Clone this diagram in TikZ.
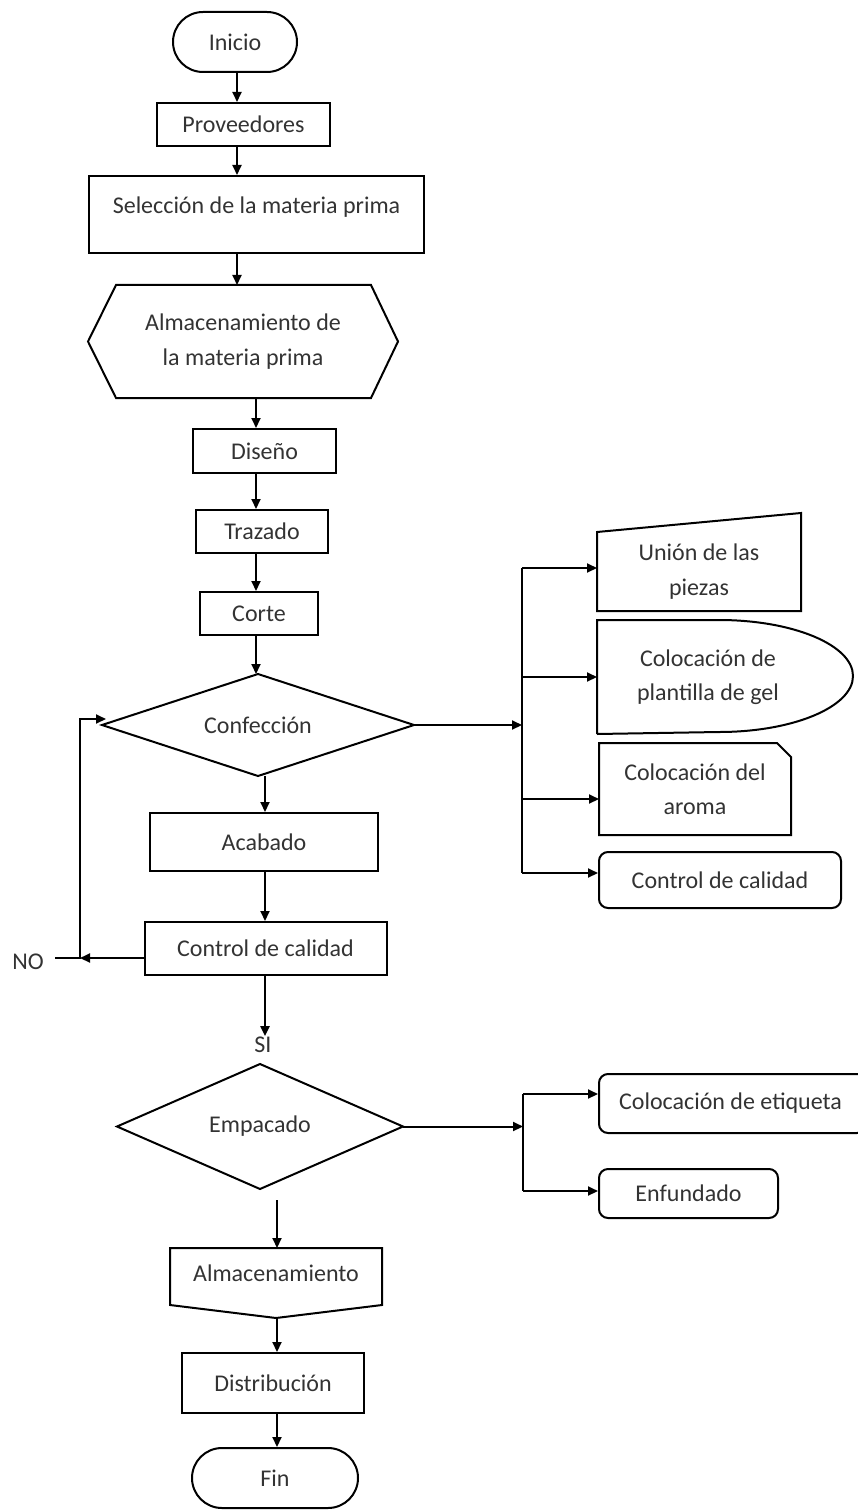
\documentclass[tikz,border=0pt]{standalone}
\usepackage{fontspec}
\setmainfont{Carlito}
\usetikzlibrary{arrows.meta,shapes.misc,calc}

\begin{document}
\begin{tikzpicture}[x=1pt,y=-1pt,line width=2pt,
  every node/.style={font=\fontsize{24}{34.5}\selectfont, text=black!80,
    inner sep=0pt, align=center},
  sz/.style 2 args={minimum width=#1pt, minimum height=#2pt},
  blockbox/.style={draw},
  termbox/.style={draw, rounded rectangle},
  softbox/.style={draw, rounded corners=9pt},
  arr/.style={-{Triangle[length=10pt,width=9pt]}}]

\useasboundingbox (0,0) rectangle (858,1511);

% main column
\node[termbox, sz={124}{60}] (inicio) at (235,42) {Inicio};
\node[blockbox, sz={173}{43}] (prov) at (243.5,124.5) {Proveedores};
\node[blockbox, sz={335}{77}, label={[yshift=7.5pt]center:Selección de la materia prima}] (sel) at (256.5,214.5) {};
\node[sz={308}{111}] (alm1) at (243,341.5) {Almacenamiento de\\la materia prima};
\node[blockbox, sz={143}{44}] (diseno) at (264.5,451) {Diseño};
\node[blockbox, sz={132}{43}] (traz) at (262,531.5) {Trazado};
\node[blockbox, sz={118}{43}] (corte) at (259,613.5) {Corte};
\node[sz={310}{100}] (conf) at (258,725) {Confección};
\node[blockbox, sz={228}{58}] (acab) at (264,842) {Acabado};
\node[blockbox, sz={242}{53}] (ctrl) at (265.5,948.5) {Control de calidad};
\node (si) at (263,1045) {SI};
\node (no) at (28,962) {NO};
\node[sz={284}{123}] (emp) at (260,1126.5) {Empacado};
\node[sz={210}{68}, label={[yshift=10pt]center:Almacenamiento}] (alm2) at (276,1283) {};
\node[blockbox, sz={182}{60}] (dist) at (273,1383) {Distribución};
\node[termbox, sz={166}{60}] (fin) at (275,1478) {Fin};

% right branch of Confección
\node[sz={202}{77}] (union) at (699,571.5) {Unión de las\\piezas};
\node[sz={220}{112}] (gel) at (708,677) {Colocación de\\plantilla de gel};
\node[sz={190}{90}] (aroma) at (695,789) {Colocación del\\aroma};
\node[softbox, sz={242}{56}] (ctrl2) at (720,880) {Control de calidad};

% right branch of Empacado
\node[softbox, sz={267}{59}, label={[xshift=-2pt]center:Colocación de etiqueta}] (etiq) at (732.5,1103.5) {};
\node[softbox, sz={179}{49}] (enf) at (688.5,1193.5) {Enfundado};

% outlines of the special shapes
\draw (alm1.west) -- ([xshift=28pt]alm1.north west) -- ([xshift=-27pt]alm1.north east)
  -- (alm1.east) -- ([xshift=-27pt]alm1.south east) -- ([xshift=28pt]alm1.south west) -- cycle;
\draw (conf.north) -- (conf.east) -- (conf.south) -- (conf.west) -- cycle;
\draw (emp.north) -- (emp.east) -- (emp.south) -- (emp.west) -- cycle;
\draw (alm2.north west) -- (alm2.north east) -- ([yshift=13pt]alm2.south east)
  -- (alm2.south) -- ([yshift=13pt]alm2.south west) -- cycle;
\draw (union.north west) -- ([yshift=19pt]union.north east) -- (union.south east)
  -- (union.south west) -- cycle;
\draw (gel.south west) -- (gel.north west) -- ([xshift=122pt]gel.north west)
  arc[start angle=90, end angle=-90, x radius=134pt, y radius=56pt] -- (gel.south west);
\draw (aroma.south west) -- (aroma.north west) -- ([xshift=-14pt]aroma.north east)
  -- ([yshift=-14pt]aroma.north east) -- (aroma.south east) -- cycle;

% columns of the vertical connectors
\coordinate (c1) at (237,0);
\coordinate (c2) at (256,0);
\coordinate (c3) at (265,0);
\coordinate (c4) at (277,0);

\draw[arr] (c1 |- inicio.south) -- (c1 |- prov.north);
\draw[arr] (c1 |- prov.south) -- (c1 |- sel.north);
\draw[arr] (c1 |- sel.south) -- (c1 |- alm1.north);
\draw[arr] (c2 |- alm1.south) -- (c2 |- diseno.north);
\draw[arr] (c2 |- diseno.south) -- (c2 |- traz.north);
\draw[arr] (c2 |- traz.south) -- (c2 |- corte.north);
\draw[arr] (c2 |- corte.south) -- (c2 |- conf.north);
\draw[arr] (c3 |- conf.south) -- (c3 |- acab.north);
\draw[arr] (c3 |- acab.south) -- (c3 |- ctrl.north);
\draw[arr] (c3 |- ctrl.south) -- (c3 |- si.north);

% rework loop
\coordinate (loop) at (80,958);
\coordinate (loopT) at (106,719);
\coordinate (noEnd) at (55,958);
\draw[arr] (ctrl.west |- loop) -- (loop);
\draw[arr] (noEnd) -- (loop) -- (loop |- loopT) -- (loopT);

% lower column
\coordinate (e1) at (277,1200);
\draw[arr] (e1) -- (c4 |- alm2.north);
\draw[arr] (c4 |- alm2.south) -- (c4 |- dist.north);
\draw[arr] (c4 |- dist.south) -- (c4 |- fin.north);

% branches of Confección
\coordinate (busA) at (522,568);
\coordinate (busB) at (522,873);
\draw[arr] (conf.east) -- (busA |- conf.east);
\draw (busA) -- (busB);
\draw[arr] (busA) -- (union.west |- busA);
\draw[arr] (busA |- gel.west) -- (gel.west);
\draw[arr] (busA |- 0,799) -- (aroma.west |- 0,799);
\draw[arr] (busB) -- (ctrl2.west |- busB);

% branches of Empacado
\coordinate (busC) at (523,1094);
\coordinate (busD) at (523,1191);
\draw[arr] (emp.east) -- (busC |- emp.east);
\draw (busC) -- (busD);
\draw[arr] (busC) -- (etiq.west |- busC);
\draw[arr] (busD) -- (enf.west |- busD);
\end{tikzpicture}
\end{document}
